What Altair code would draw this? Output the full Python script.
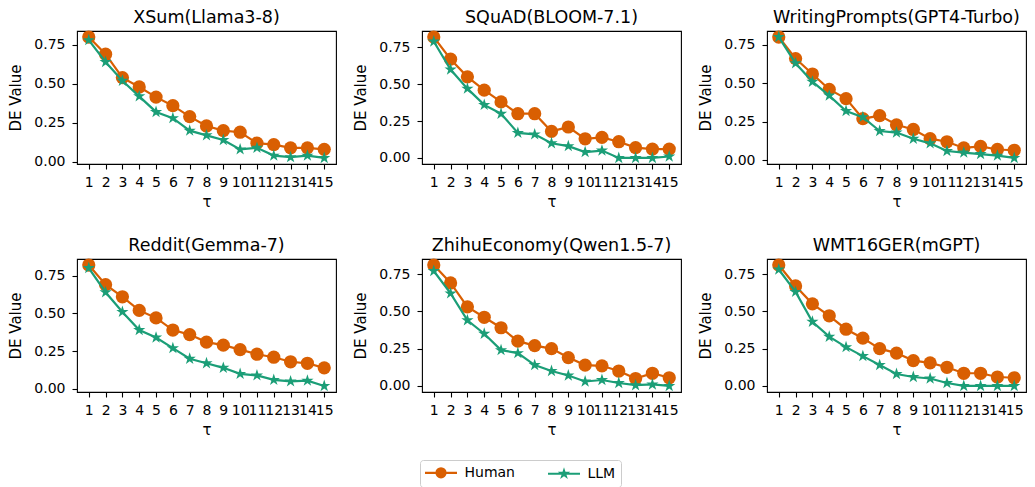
import altair as alt
import pandas as pd

tau = [1, 2, 3, 4, 5, 6, 7, 8, 9, 10, 11, 12, 13, 14, 15]
series = ["Human", "LLM"]
colors = ["#d95f02", "#1b9e77"]
titles = [
    "XSum(Llama3-8)",
    "SQuAD(BLOOM-7.1)",
    "WritingPrompts(GPT4-Turbo)",
    "Reddit(Gemma-7)",
    "ZhihuEconomy(Qwen1.5-7)",
    "WMT16GER(mGPT)",
]
human_xsum = [0.80, 0.69, 0.54, 0.48, 0.415, 0.36, 0.29, 0.23, 0.20, 0.19, 0.12, 0.11, 0.09, 0.09, 0.08]
llm_xsum = [0.78, 0.64, 0.52, 0.42, 0.32, 0.28, 0.20, 0.17, 0.14, 0.08, 0.09, 0.04, 0.03, 0.04, 0.025]
human_squad = [0.82, 0.67, 0.55, 0.46, 0.38, 0.30, 0.30, 0.18, 0.21, 0.13, 0.14, 0.11, 0.07, 0.06, 0.06]
llm_squad = [0.79, 0.60, 0.47, 0.36, 0.30, 0.17, 0.16, 0.10, 0.08, 0.04, 0.05, 0.00, 0.00, 0.00, 0.01]
human_wp = [0.80, 0.66, 0.56, 0.46, 0.40, 0.27, 0.29, 0.23, 0.20, 0.14, 0.12, 0.08, 0.09, 0.07, 0.065]
llm_wp = [0.80, 0.63, 0.51, 0.42, 0.32, 0.28, 0.19, 0.18, 0.14, 0.11, 0.06, 0.05, 0.04, 0.03, 0.015]
human_reddit = [0.82, 0.69, 0.61, 0.52, 0.47, 0.39, 0.36, 0.31, 0.29, 0.26, 0.23, 0.21, 0.18, 0.17, 0.14]
llm_reddit = [0.80, 0.64, 0.51, 0.39, 0.34, 0.27, 0.20, 0.17, 0.14, 0.10, 0.09, 0.06, 0.05, 0.055, 0.02]
human_zhihu = [0.81, 0.69, 0.53, 0.46, 0.39, 0.30, 0.27, 0.25, 0.19, 0.14, 0.135, 0.10, 0.05, 0.085, 0.055]
llm_zhihu = [0.77, 0.62, 0.44, 0.35, 0.24, 0.22, 0.14, 0.10, 0.07, 0.03, 0.04, 0.02, 0.005, 0.01, 0.00]
human_wmt = [0.81, 0.67, 0.55, 0.47, 0.38, 0.32, 0.25, 0.22, 0.17, 0.155, 0.125, 0.085, 0.085, 0.06, 0.055]
llm_wmt = [0.78, 0.63, 0.43, 0.33, 0.26, 0.20, 0.14, 0.08, 0.06, 0.05, 0.02, 0.00, 0.00, 0.00, 0.00]

human_all = [human_xsum, human_squad, human_wp, human_reddit, human_zhihu, human_wmt]
llm_all = [llm_xsum, llm_squad, llm_wp, llm_reddit, llm_zhihu, llm_wmt]

FONT = "DejaVu Sans"
STAR = ("M0,-1L0.225,-0.309L0.951,-0.309L0.363,0.118L0.588,0.809L0,0.382"
        "L-0.588,0.809L-0.363,0.118L-0.951,-0.309L-0.225,-0.309Z")
LEG_HUMAN = "M-2.667,0H2.667M0.75,0A0.75,0.75,0,1,1,-0.75,0A0.75,0.75,0,1,1,0.75,0Z"
LEG_LLM = ("M-2.667,0H2.667M0,-0.5L0.112,-0.155L0.476,-0.155L0.182,0.059L0.294,0.405"
           "L0,0.191L-0.294,0.405L-0.182,0.059L-0.476,-0.155L-0.112,-0.155Z")

legend_kw = dict(
    orient="none", legendX=343, legendY=429, direction="horizontal", title=None,
    symbolSize=144, symbolStrokeWidth=2.2, symbolOpacity=1, symbolOffset=8.5,
    symbolFillColor="white", symbolStrokeColor="black",
    labelFontSize=14, labelFont=FONT, labelColor="black", labelOffset=16,
    fillColor="white", strokeColor="#cccccc", cornerRadius=3, padding=5,
    columnPadding=28,
)


def color_enc():
    return alt.Color("series:N", scale=alt.Scale(domain=series, range=colors),
                     legend=alt.Legend(**legend_kw))


def panel(i):
    df = pd.DataFrame({
        "tau": tau + tau,
        "value": human_all[i] + llm_all[i],
        "series": [series[0]] * len(tau) + [series[1]] * len(tau),
    })
    vals = human_all[i] + llm_all[i]
    lo, hi = min(vals), max(vals)
    pad = 0.05 * (hi - lo)
    x = alt.X("tau:Q", scale=alt.Scale(domain=[tau[0] - 0.7, tau[-1] + 0.7], nice=False, zero=False),
              axis=alt.Axis(values=tau, title="τ", format="d", labelAngle=0, labelOverlap=False,
                            labelFlush=False, tickSize=5, labelPadding=6, titlePadding=5,
                            grid=False))
    y = alt.Y("value:Q", scale=alt.Scale(domain=[lo - pad, hi + pad], nice=False, zero=False),
              axis=alt.Axis(values=[0, 0.25, 0.5, 0.75], format=".2f", title="DE Value",
                            tickSize=5, labelPadding=7, titlePadding=10, grid=False))
    base = alt.Chart(df).encode(x=x, y=y)
    layers = []
    if i == 0:
        carrier = base.transform_filter("false").mark_point(filled=True, opacity=1).encode(
            color=color_enc(),
            shape=alt.Shape("series:N", scale=alt.Scale(domain=series, range=[LEG_HUMAN, LEG_LLM]),
                            legend=alt.Legend(**legend_kw)),
        )
        layers.append(carrier)
    h_line = base.transform_filter("datum.series == 'Human'").mark_line(strokeWidth=2.2).encode(color=color_enc())
    h_pts = base.transform_filter("datum.series == 'Human'").mark_point(
        shape="circle", filled=True, size=175, opacity=1).encode(color=color_enc())
    l_line = base.transform_filter("datum.series == 'LLM'").mark_line(strokeWidth=2.2).encode(color=color_enc())
    l_pts = base.transform_filter("datum.series == 'LLM'").mark_point(
        shape=STAR, filled=True, size=165, opacity=1).encode(color=color_enc())
    layers += [h_line, h_pts, l_line, l_pts]
    return alt.layer(*layers).properties(width=259, height=133, title=titles[i])


chart = alt.concat(*[panel(i) for i in range(6)], columns=3,
                   spacing={"row": 95, "column": 86}, bounds="flush").properties(padding=0)

chart = chart.configure(font=FONT).configure_view(stroke="black", strokeWidth=1.1).configure_axis(
    domain=False, tickColor="black", tickWidth=1.1, labelColor="black", labelFontSize=14,
    labelFont=FONT, titleFont=FONT, titleFontSize=15, titleColor="black", titleFontWeight="normal",
).configure_title(fontSize=17.5, font=FONT, fontWeight="normal", color="black", offset=0, anchor="middle")

chart.save("out.html", embed_options={"renderer": "svg", "actions": False})
